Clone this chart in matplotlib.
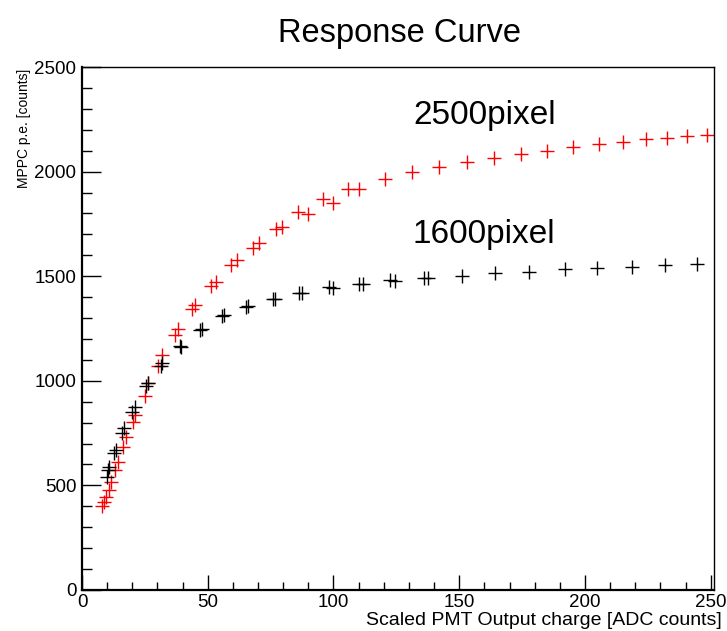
import matplotlib
matplotlib.use("Agg")
import matplotlib.pyplot as plt
from matplotlib.ticker import MultipleLocator

plt.rcParams['font.family'] = ['Liberation Sans', 'DejaVu Sans']

# 2500 pixel MPPC (red)
x_2500 = [8.0, 8.8, 9.4, 10.7, 11.5, 13.1, 14.2, 16.4, 17.3, 20.4, 21.1, 25.1, 26.4,
          30.3, 31.9, 37.0, 38.3, 43.6, 44.9, 51.1, 53.3, 59.2, 61.7, 67.9, 70.5,
          77.0, 79.4, 86.0, 89.8, 95.8, 99.9, 105.9, 110.2, 120.5, 131.1, 142.1,
          153.0, 163.8, 174.7, 185.0, 195.4, 205.4, 215.0, 224.2, 232.8, 240.7, 248.6]
y_2500 = [401, 421, 445, 478, 516, 574, 612, 683, 731, 803, 836, 927, 989,
          1071, 1123, 1219, 1248, 1343, 1362, 1453, 1472, 1554, 1578, 1635, 1659,
          1726, 1735, 1807, 1797, 1869, 1850, 1917, 1917, 1965, 1998, 2022,
          2046, 2065, 2084, 2098, 2118, 2132, 2142, 2156, 2161, 2170, 2175]

# 1600 pixel MPPC (black)
x_1600 = [9.8, 10.2, 10.7, 12.9, 13.4, 15.8, 16.8, 20.0, 21.1, 25.5, 26.4, 31.3, 31.9,
          38.9, 39.2, 47.0, 47.6, 55.6, 56.6, 65.2, 66.1, 75.8, 76.7, 86.4, 87.6,
          98.2, 99.9, 110.3, 111.9, 122.5, 124.5, 135.8, 137.4, 151.0, 164.2,
          177.9, 192.1, 204.6, 218.6, 231.8, 244.5]
y_1600 = [540, 574, 588, 655, 669, 750, 774, 851, 875, 975, 989, 1071, 1085,
          1166, 1162, 1243, 1248, 1310, 1315, 1353, 1358, 1391, 1391, 1420, 1420,
          1448, 1444, 1463, 1463, 1482, 1477, 1491, 1491, 1501, 1515,
          1520, 1534, 1539, 1544, 1554, 1558]

W, H = 727, 631
fig = plt.figure(figsize=(W / 100, H / 100), dpi=100)
ax = fig.add_axes([82 / W, 1 - 590 / H, (714 - 82) / W, (590 - 67) / H])

ax.plot(x_2500, y_2500, linestyle='none', marker='+', color='red',
        markersize=9.5, markeredgewidth=1.0)
ax.plot(x_1600, y_1600, linestyle='none', marker='+', color='black',
        markersize=9.5, markeredgewidth=1.0)

ax.set_xlim(0, 251.3)
ax.set_ylim(0, 2500)

ax.xaxis.set_major_locator(MultipleLocator(50))
ax.xaxis.set_minor_locator(MultipleLocator(10))
ax.yaxis.set_major_locator(MultipleLocator(500))
ax.yaxis.set_minor_locator(MultipleLocator(100))

ax.tick_params(axis='x', which='major', direction='in', length=11, width=1,
               labelsize=13.5, pad=3, top=False)
ax.tick_params(axis='x', which='minor', direction='in', length=5.5, width=1, top=False)
ax.tick_params(axis='y', which='major', direction='in', length=13.5, width=1,
               labelsize=13.5, pad=4, right=False)
ax.tick_params(axis='y', which='minor', direction='in', length=7, width=1, right=False)

for s in ['left', 'bottom']:
    ax.spines[s].set_linewidth(1.6)
for s in ['top', 'right']:
    ax.spines[s].set_linewidth(1.0)

ax.text(131.6, 2228, '2500pixel', fontsize=24, ha='left', va='baseline')
ax.text(131.6, 1659, '1600pixel', fontsize=24, ha='left', va='baseline')

fig.text(400 / W, 1 - 42 / H, 'Response Curve', fontsize=23.5,
         ha='center', va='baseline')
fig.text(722 / W, 1 - 625 / H, 'Scaled PMT Output charge [ADC counts]',
         fontsize=14, ha='right', va='baseline')
fig.text(24 / W, 1 - 69 / H, 'MPPC p.e. [counts]', fontsize=10,
         rotation=90, ha='center', va='top')

fig.savefig('out.png', dpi=100)
